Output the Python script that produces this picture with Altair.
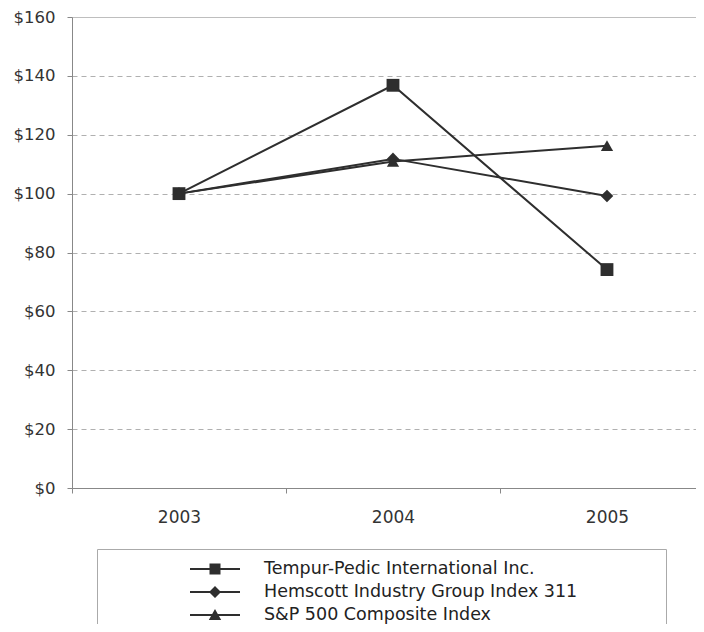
import altair as alt
import pandas as pd

years = [2003, 2004, 2005]
series_names = [
    "Tempur-Pedic International Inc.",
    "Hemscott Industry Group Index 311",
    "S&P 500 Composite Index",
]
tempur = [100, 136.8, 74.2]
hemscott = [100, 111.8, 99.2]
sp500 = [100, 110.9, 116.3]
y_ticks = [0, 20, 40, 60, 80, 100, 120, 140, 160]
# the last category slot runs on past the right edge of the picture
x_domain = [2002.5, 2005.416]

plot_shapes = ["square", "diamond", "triangle-up"]
plot_sizes = [165, 150, 170]
legend_paths = [
    "M-2.5,-0.1H2.5V0.1H-2.5ZM-0.55,-0.55H0.55V0.55H-0.55Z",
    "M-2.5,-0.1H2.5V0.1H-2.5ZM0,-0.6L0.6,0L0,0.6L-0.6,0Z",
    "M-2.5,-0.1H2.5V0.1H-2.5ZM0,-0.6L0.62,0.5L-0.62,0.5Z",
]

rows = []
for name, vals in zip(series_names, [tempur, hemscott, sp500]):
    for yr, v in zip(years, vals):
        rows.append({"year": yr, "series": name, "value": v})
df = pd.DataFrame(rows)

ink = "#2e2e2e"
text_col = "#333333"
# trailing non-breaking spaces (kept by a zero-width space) widen the legend frame
legend_tail = "\u00a0" * 14 + "\u200b"

x = alt.X(
    "year:Q",
    scale=alt.Scale(domain=x_domain, nice=False, zero=False),
    axis=alt.Axis(
        title=None,
        values=years,
        format="d",
        labelAngle=0,
        tickOffset=-107,
        labelOffset=107,
        tickSize=5,
        tickColor="#888888",
        domainColor="#888888",
        labelFontSize=17,
        labelColor=text_col,
        labelPadding=16,
        labelFlush=False,
        labelOverlap=False,
        grid=False,
    ),
)
y = alt.Y(
    "value:Q",
    scale=alt.Scale(domain=[0, 160], nice=False, zero=True),
    axis=alt.Axis(
        title=None,
        values=y_ticks,
        labelExpr="'$' + datum.value",
        tickSize=5,
        tickColor="#888888",
        domainColor="#888888",
        labelFontSize=16.5,
        labelColor=text_col,
        labelPadding=12,
        grid=True,
        gridColor=alt.condition("datum.value == 160", alt.value("#a8a8a8"), alt.value("#b0b0b0")),
        gridDash=alt.condition("datum.value == 160", alt.value([1, 0]), alt.value([5, 4])),
        gridWidth=1,
    ),
)

lines = alt.Chart(df).mark_line(color=ink, strokeWidth=2).encode(
    x=x, y=y, detail="series:N"
)

points = alt.Chart(df).mark_point(filled=True, color=ink, opacity=1).encode(
    x=x,
    y=y,
    shape=alt.Shape(
        "series:N",
        scale=alt.Scale(domain=series_names, range=plot_shapes),
        legend=None,
    ),
    size=alt.Size(
        "series:N",
        scale=alt.Scale(domain=series_names, range=plot_sizes),
        legend=None,
    ),
)

legend_layer = (
    alt.Chart(df)
    .transform_filter("false")
    .mark_point(filled=True, color=ink, opacity=1)
    .encode(
        shape=alt.Shape(
            "series:N",
            scale=alt.Scale(domain=series_names, range=legend_paths),
            legend=alt.Legend(
                title=None,
                orient="none",
                legendX=25,
                legendY=532,
                padding=10,
                strokeColor="#aaaaaa",
                fillColor="white",
                symbolSize=400,
                symbolFillColor=ink,
                symbolStrokeWidth=0,
                symbolOffset=98,
                labelOffset=39,
                labelFontSize=17.5,
                labelColor="#222222",
                labelLimit=1000,
                rowPadding=4,
                labelExpr="datum.label + '" + legend_tail + "'",
            ),
        )
    )
)

chart = (
    alt.layer(lines, points, legend_layer)
    .resolve_scale(shape="independent")
    .properties(
        width=624,
        height=471,
        autosize=alt.AutoSizeParams(type="none"),
        padding={"left": 64, "top": 9, "right": 0, "bottom": 136},
    )
    .configure(font="DejaVu Sans")
    .configure_view(stroke="transparent", strokeWidth=0)
)

chart.save("out.html", embed_options={"renderer": "svg", "actions": False})
